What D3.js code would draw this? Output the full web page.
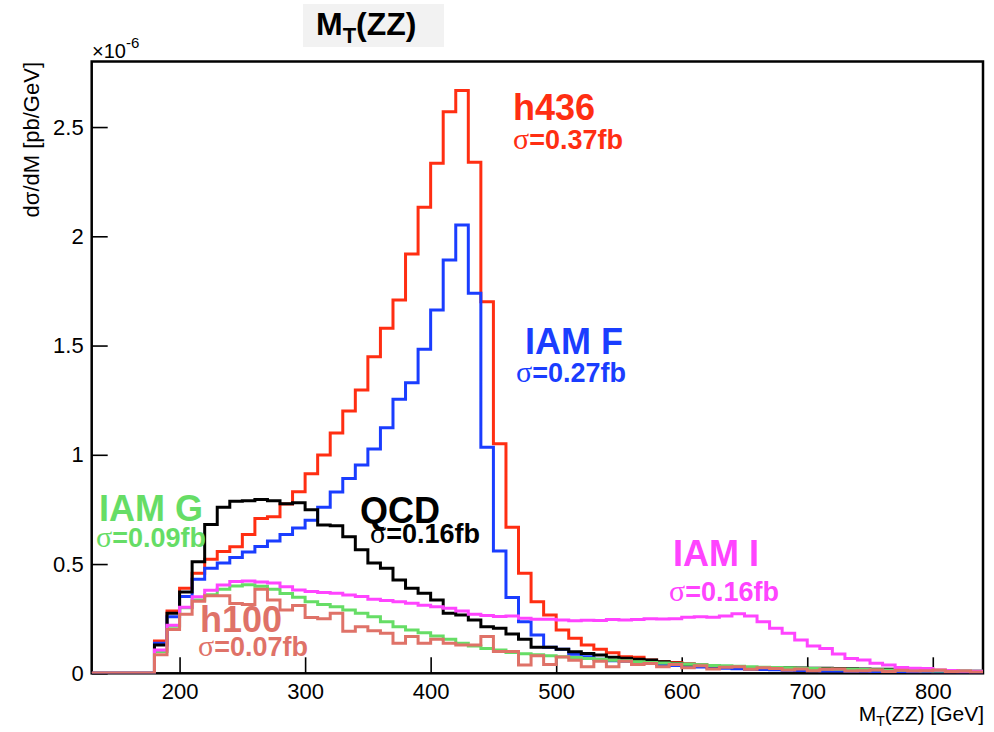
<!DOCTYPE html>
<html><head><meta charset="utf-8">
<script src="https://cdn.jsdelivr.net/npm/d3@7"></script>
<style>body{margin:0;background:#fff}</style>
</head><body>
<svg id="c" width="994" height="732" xmlns="http://www.w3.org/2000/svg"></svg>
<script>
// ---------- data (bins of 10 GeV, lower edges 130..830) ----------
const binLow = d3.range(130, 840, 10);
const h436 = [0,0,0,0,0,
 0.148,0.285,0.389,0.458,0.522,0.557,0.579,0.635,0.709,0.717,
 0.775,0.831,0.913,0.999,1.100,1.200,1.297,1.449,1.579,1.708,
 1.919,2.133,2.334,2.570,2.667,2.339,1.701,1.051,0.668,0.458,
 0.328,0.267,0.198,0.160,0.130,0.110,0.094,0.076,0.073,0.061,
 0.053,0.049,0.043,0.038,0.033,0.031,0.029,0.026,0.024,0.022,
 0.020,0.018,0.017,0.015,0.014,0.013,0.012,0.011,0.010,0.009,
 0.008,0.008,0.007,0.006,0.006,0.005];
const iamF = [0,0,0,0,0,
 0.137,0.259,0.351,0.430,0.481,0.505,0.530,0.555,0.580,0.605,
 0.635,0.665,0.700,0.760,0.830,0.892,0.953,1.027,1.124,1.254,
 1.330,1.483,1.663,1.891,2.052,1.739,1.035,0.560,0.347,0.236,
 0.175,0.119,0.110,0.087,0.076,0.064,0.058,0.055,0.050,0.045,
 0.040,0.036,0.032,0.029,0.026,0.023,0.021,0.019,0.017,0.016,
 0.014,0.013,0.012,0.011,0.010,0.009,0.009,0.008,0.007,0.007,
 0.006,0.006,0.005,0.005,0.004,0.004];
const qcd = [0,0,0,0,0,
 0.130,0.275,0.372,0.510,0.681,0.760,0.787,0.790,0.795,0.790,
 0.776,0.780,0.748,0.679,0.675,0.625,0.565,0.505,0.481,0.427,
 0.389,0.366,0.335,0.275,0.267,0.244,0.213,0.206,0.180,0.156,
 0.119,0.119,0.110,0.099,0.091,0.084,0.073,0.069,0.064,0.061,
 0.053,0.046,0.041,0.037,0.034,0.031,0.031,0.027,0.027,0.026,
 0.025,0.024,0.023,0.023,0.022,0.021,0.020,0.019,0.018,0.017,
 0.015,0.015,0.012,0.010,0.009,0.009];
const iamG = [0,0,0,0,0,
 0.100,0.215,0.300,0.335,0.360,0.385,0.400,0.405,0.398,0.385,
 0.365,0.348,0.328,0.315,0.305,0.290,0.275,0.259,0.236,0.213,
 0.198,0.186,0.171,0.156,0.137,0.125,0.114,0.107,0.095,0.089,
 0.085,0.080,0.076,0.072,0.068,0.064,0.060,0.057,0.053,0.050,
 0.047,0.044,0.041,0.039,0.036,0.034,0.032,0.030,0.028,0.026,
 0.025,0.023,0.022,0.020,0.019,0.018,0.017,0.016,0.015,0.014,
 0.013,0.012,0.011,0.011,0.010,0.009];
const iamI = [0,0,0,0,0,
 0.107,0.220,0.302,0.350,0.380,0.404,0.420,0.422,0.418,0.413,
 0.396,0.381,0.374,0.370,0.366,0.358,0.351,0.339,0.333,0.327,
 0.321,0.312,0.305,0.298,0.285,0.270,0.265,0.260,0.262,0.252,
 0.247,0.247,0.244,0.240,0.243,0.242,0.246,0.244,0.246,0.250,
 0.248,0.250,0.256,0.259,0.256,0.262,0.272,0.262,0.236,0.206,
 0.183,0.152,0.125,0.114,0.088,0.068,0.061,0.046,0.038,0.027,
 0.023,0.022,0.015,0.013,0.009,0.009];
const h100 = [0,0,0,0,0,
 0.085,0.200,0.270,0.330,0.355,0.355,0.320,0.315,0.385,0.335,
 0.290,0.310,0.255,0.250,0.275,0.192,0.213,0.195,0.183,0.137,
 0.168,0.137,0.156,0.137,0.130,0.130,0.168,0.100,0.100,0.038,
 0.080,0.040,0.075,0.060,0.030,0.055,0.030,0.055,0.040,0.045,
 0.030,0.040,0.025,0.035,0.020,0.028,0.030,0.018,0.025,0.022,
 0.015,0.020,0.012,0.018,0.020,0.010,0.012,0.015,0.008,0.014,
 0.010,0.012,0.015,0.008,0.010,0.006];

const seriesNames = ["h436","IAM F","QCD","IAM G","IAM I","h100"];
const seriesSigma = ["0.37fb","0.27fb","0.16fb","0.09fb","0.16fb","0.07fb"];
const xTickValues = [200,300,400,500,600,700,800];
const xTickLabels = ["200","300","400","500","600","700","800"];
const yTickValues = [0,0.5,1,1.5,2,2.5];
const yTickLabels = ["0","0.5","1","1.5","2","2.5"];

const series = [
  {name:seriesNames[0], sigma:seriesSigma[0], values:h436, color:"#ff2e12", lx:513, ly:120, sx:513, sy:149},
  {name:seriesNames[1], sigma:seriesSigma[1], values:iamF, color:"#1a3dff", lx:525, ly:354, sx:516, sy:382},
  {name:seriesNames[2], sigma:seriesSigma[2], values:qcd,  color:"#000000", lx:360, ly:523, sx:370, sy:543},
  {name:seriesNames[3], sigma:seriesSigma[3], values:iamG, color:"#66dd66", lx:99,  ly:521, sx:96,  sy:547},
  {name:seriesNames[4], sigma:seriesSigma[4], values:iamI, color:"#ff44ff", lx:673, ly:566, sx:669, sy:601},
  {name:seriesNames[5], sigma:seriesSigma[5], values:h100, color:"#df7268", lx:200, ly:632, sx:198, sy:656}
];

// ---------- layout ----------
const svg = d3.select("#c");
const FONT = "'Liberation Sans', Arial, Helvetica, sans-serif";
const X0 = 91.7, X1 = 983, Y0 = 673.3, Y1 = 61.5;
const x = d3.scaleLinear().domain([130, 840]).range([X0, X1]);
const y = d3.scaleLinear().domain([0, 2.8]).range([Y0, Y1]);

svg.append("rect").attr("width",994).attr("height",732).attr("fill","#fff");

// title box
svg.append("rect").attr("x",303).attr("y",4).attr("width",141).attr("height",43).attr("fill","#f2f2f2");
const tt = svg.append("text").attr("x",316).attr("y",35).attr("font-family",FONT)
  .attr("font-weight","bold").attr("font-size",32).attr("fill","#000");
tt.append("tspan").text("M");
tt.append("tspan").attr("font-size",22).attr("dy",8).text("T");
tt.append("tspan").attr("dy",-8).text("(ZZ)");

// clip
svg.append("clipPath").attr("id","clip").append("rect")
  .attr("x",X0).attr("y",Y1).attr("width",X1-X0).attr("height",Y0-Y1);

// frame
svg.append("rect").attr("x",X0).attr("y",Y1).attr("width",X1-X0).attr("height",Y0-Y1)
  .attr("fill","none").attr("stroke","#000").attr("stroke-width",2.5);

// axes
const minorX = d3.range(140, 841, 20).filter(v => v % 100 !== 0);
const minorY = d3.range(0, 28).map(i => i/10).filter((v,i) => i % 5 !== 0);

const gx = svg.append("g").attr("transform",`translate(0,${Y0})`);
gx.call(d3.axisBottom(x).tickValues(minorX).tickSize(-8).tickSizeOuter(0).tickFormat(""));
gx.call(d3.axisBottom(x).tickValues(xTickValues).tickSize(-16).tickSizeOuter(0).tickPadding(10)
  .tickFormat((d,i)=>xTickLabels[i]));
const gy = svg.append("g").attr("transform",`translate(${X0},0)`);
gy.call(d3.axisLeft(y).tickValues(minorY).tickSize(-8).tickSizeOuter(0).tickFormat(""));
gy.call(d3.axisLeft(y).tickValues(yTickValues).tickSize(-16).tickSizeOuter(0).tickPadding(8)
  .tickFormat((d,i)=>yTickLabels[i]));
svg.selectAll(".domain").attr("stroke","none");
svg.selectAll(".tick line").attr("stroke","#000").attr("stroke-width",1.6);
svg.selectAll(".tick text").attr("font-family",FONT).attr("font-size",22).attr("fill","#000");

// histograms
const line = d3.line().x(d=>x(d[0])).y(d=>y(d[1])).curve(d3.curveStepAfter);
series.forEach(s => {
  const pts = binLow.map((e,i)=>[e, s.values[i]]);
  pts.push([840, s.values[s.values.length-1]]);
  svg.append("path").attr("d", line(pts)).attr("fill","none")
    .attr("stroke", s.color).attr("stroke-width",3).attr("clip-path","url(#clip)");
});

// series labels
series.forEach(s => {
  svg.append("text").attr("x",s.lx).attr("y",s.ly).attr("font-family",FONT)
    .attr("font-weight","bold").attr("font-size",36).attr("fill",s.color).text(s.name);
  const t = svg.append("text").attr("x",s.sx).attr("y",s.sy).attr("font-family",FONT)
    .attr("font-weight","bold").attr("font-size",27).attr("fill",s.color);
  t.append("tspan").attr("font-family","'Liberation Serif','DejaVu Serif',serif")
    .attr("font-weight","normal").attr("font-size",30).text("σ");
  t.append("tspan").text("=" + s.sigma);
});

// exponent
const ex = svg.append("text").attr("x",92).attr("y",58).attr("font-family",FONT)
  .attr("font-size",20).attr("fill","#000");
ex.append("tspan").text("×10");
ex.append("tspan").attr("font-size",15).attr("dy",-10).text("-6");

// axis titles
const xt = svg.append("text").attr("x",984).attr("y",721).attr("text-anchor","end")
  .attr("font-family",FONT).attr("font-size",21).attr("fill","#000");
xt.append("tspan").text("M");
xt.append("tspan").attr("font-size",14).attr("dy",5).text("T");
xt.append("tspan").attr("dy",-5).text("(ZZ) [GeV]");

svg.append("text").attr("transform","translate(39,62) rotate(-90)").attr("text-anchor","end")
  .attr("font-family",FONT).attr("font-size",22).attr("fill","#000").text("dσ/dM [pb/GeV]");
</script>
</body></html>
